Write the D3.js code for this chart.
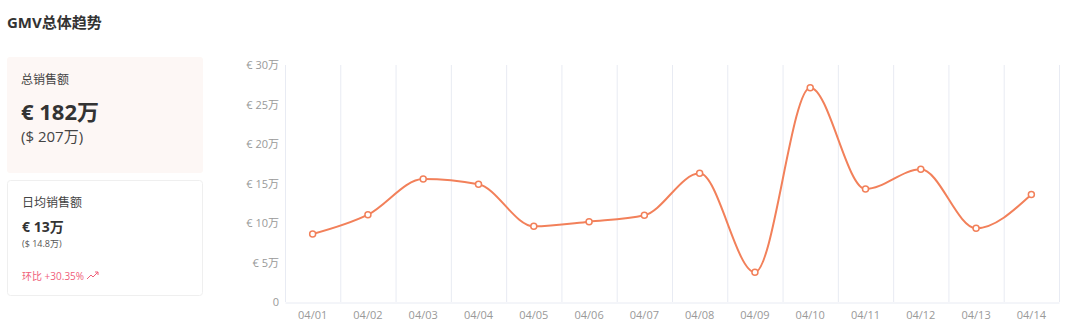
<!DOCTYPE html>
<html>
<head>
<meta charset="utf-8">
<script src="https://cdn.jsdelivr.net/npm/d3@7"></script>
<style>
  html, body { margin: 0; padding: 0; background: #fff; }
  body { width: 1080px; height: 333px; overflow: hidden; }
</style>
</head>
<body>
<svg id="chart" width="1080" height="333"></svg>
<script>
// ── Data ────────────────────────────────────────────────────
const dates  = ['04/01','04/02','04/03','04/04','04/05','04/06','04/07',
                '04/08','04/09','04/10','04/11','04/12','04/13','04/14'];
const gmv    = [8.6, 11.05, 15.57, 14.9, 9.58, 10.17, 10.97,
                16.29, 3.76, 27.13, 14.3, 16.8, 9.33, 13.6];   // 万 €
const yTicks = [0, 5, 10, 15, 20, 25, 30];

const font = '"Open Sans", "Noto Sans CJK SC", sans-serif';
const accent = '#f2805a';

const svg = d3.select('#chart');

// ── Title ───────────────────────────────────────────────────
svg.append('text')
  .attr('x', 7).attr('y', 28)
  .attr('fill', '#333')
  .attr('font-size', '15px')
  .attr('font-weight', 'bold')
  .attr('font-family', font)
  .text('GMV总体趋势');

// ── Summary cards ───────────────────────────────────────────
svg.append('rect')
  .attr('x', 7).attr('y', 57).attr('width', 196).attr('height', 116)
  .attr('rx', 3).attr('fill', '#fdf7f5');

const txt = (x, y, size, weight, color, s) => svg.append('text')
  .attr('x', x).attr('y', y)
  .attr('fill', color)
  .attr('font-size', size)
  .attr('font-weight', weight)
  .attr('font-family', font)
  .text(s);

txt(21, 84, '12px', 'normal', '#444', '总销售额');
txt(21, 120, '22px', 'bold', '#333', '€ 182万');
txt(21, 142, '15px', 'normal', '#444', '($ 207万)');

svg.append('rect')
  .attr('x', 7.5).attr('y', 180.5).attr('width', 195).attr('height', 115)
  .attr('rx', 3).attr('fill', '#fff')
  .attr('stroke', '#efefef');

txt(22, 207, '12px', 'normal', '#444', '日均销售额');
txt(22, 232, '14px', 'bold', '#333', '€ 13万');
txt(22, 247, '9px', 'normal', '#555', '($ 14.8万)');
txt(22, 280, '10px', 'normal', '#f0607a', '环比 +30.35%');

// trend arrow icon
const arrow = svg.append('g')
  .attr('fill', 'none')
  .attr('stroke', '#f0607a')
  .attr('stroke-width', 1);
arrow.append('polyline').attr('points', '87,279 91,275 93,277 98,272');
arrow.append('polyline').attr('points', '95,272 98,272 98,275');

// ── Chart ───────────────────────────────────────────────────
const plotL = 285, plotR = 1059, plotT = 65, plotB = 302;

const x = d3.scaleBand()
  .domain(dates)
  .range([plotL, plotR]);

const y = d3.scaleLinear()
  .domain([0, 30])
  .range([plotB, plotT]);

// vertical gridlines at band edges
const edges = dates.map(d => x(d)).concat([plotR]);
svg.append('g')
  .selectAll('line')
  .data(edges)
  .join('line')
  .attr('x1', d => d + 0.5).attr('x2', d => d + 0.5)
  .attr('y1', plotT).attr('y2', plotB)
  .attr('stroke', '#e8ebf3')
  .attr('stroke-width', 1);

// x axis
const xAxis = svg.append('g')
  .attr('transform', `translate(0,${plotB + 0.5})`)
  .call(d3.axisBottom(x).tickSize(0).tickPadding(9));
xAxis.select('.domain').attr('stroke', '#e8ebf3');
xAxis.selectAll('text')
  .attr('fill', '#999')
  .attr('font-size', '11px')
  .attr('font-family', font);

// y axis
const yAxis = svg.append('g')
  .attr('transform', `translate(${plotL},0)`)
  .call(d3.axisLeft(y)
    .tickValues(yTicks)
    .tickSize(0)
    .tickPadding(6)
    .tickFormat(d => d === 0 ? '0' : `€ ${d}万`));
yAxis.select('.domain').remove();
yAxis.selectAll('text')
  .attr('fill', '#999')
  .attr('font-size', '11px')
  .attr('font-family', font);

// line
const pts = dates.map((d, i) => ({ d, v: gmv[i] }));
const line = d3.line()
  .x(p => x(p.d) + x.bandwidth() / 2)
  .y(p => y(p.v))
  .curve(d3.curveMonotoneX);

svg.append('path')
  .datum(pts)
  .attr('fill', 'none')
  .attr('stroke', accent)
  .attr('stroke-width', 2)
  .attr('d', line);

svg.append('g')
  .selectAll('circle')
  .data(pts)
  .join('circle')
  .attr('cx', p => x(p.d) + x.bandwidth() / 2)
  .attr('cy', p => y(p.v))
  .attr('r', 3)
  .attr('fill', '#fff')
  .attr('stroke', accent)
  .attr('stroke-width', 1.5);
</script>
</body>
</html>
